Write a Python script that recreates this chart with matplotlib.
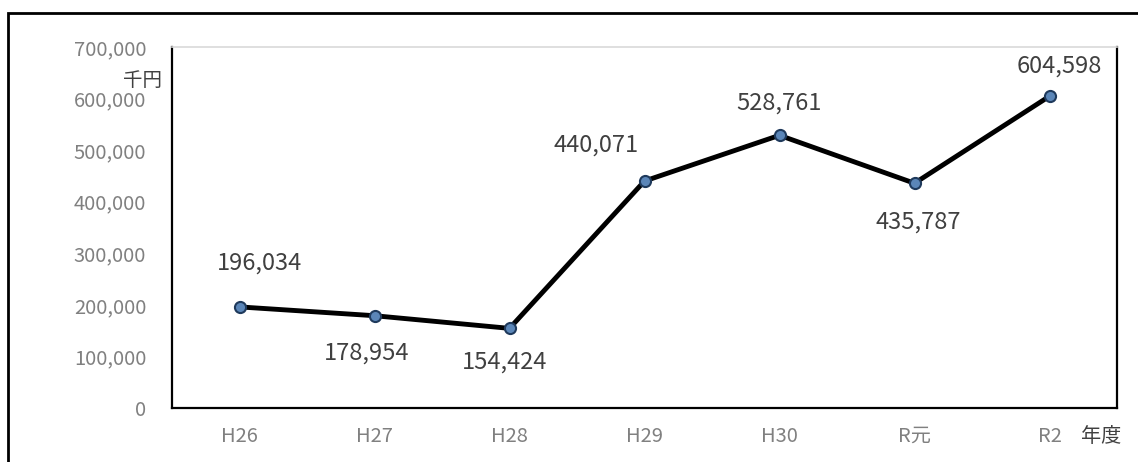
import matplotlib.pyplot as plt
from matplotlib.patches import Rectangle
from matplotlib.ticker import FuncFormatter

plt.rcParams['font.family'] = ['Noto Sans CJK JP', 'DejaVu Sans']

# 年度別の金額（千円）
years = ['H26', 'H27', 'H28', 'H29', 'H30', 'R元', 'R2']
amounts = [196034, 178954, 154424, 440071, 528761, 435787, 604598]
# label offsets in pixels (dx, dy) for each data label
label_offsets = [(20, 44), (-8, -37), (-5, -34), (-48, 36), (-1, 32), (4, -39), (10, 30)]

fig = plt.figure(figsize=(11.38, 4.62), dpi=100)
ax = fig.add_axes([172 / 1138, 1 - 408 / 462, 945 / 1138, 361 / 462])

x = list(range(len(years)))
ax.plot(x, amounts, color='black', lw=3.5, marker='o', markersize=8,
        markerfacecolor='#5b86b8', markeredgecolor='#1f3a5c', markeredgewidth=1.5,
        solid_capstyle='round', zorder=3)

for xi, v, (dx, dy) in zip(x, amounts, label_offsets):
    ax.annotate(f'{v:,}', (xi, v), xytext=(dx, dy), textcoords='offset pixels',
                ha='center', va='center', fontsize=17, color='#404040')

ax.set_xlim(-0.5, len(years) - 0.5)
ax.set_ylim(0, 700000)
ax.set_yticks(range(0, 700001, 100000))
ax.yaxis.set_major_formatter(FuncFormatter(lambda v, p: f'{int(v):,}'))
ax.set_xticks(x)
ax.set_xticklabels(years)
ax.tick_params(axis='both', length=0, labelsize=14.5, labelcolor='#808080')
ax.tick_params(axis='y', pad=18.5)
ax.tick_params(axis='x', pad=13)

for side in ['left', 'bottom', 'right']:
    ax.spines[side].set_color('black')
    ax.spines[side].set_linewidth(1.6)
ax.spines['top'].set_color('#d9d9d9')
ax.spines['top'].set_linewidth(1.2)

# 単位ラベル
fig.text(162 / 1138, 1 - 80 / 462, '千円', ha='right', va='center',
         fontsize=14, color='#404040')
fig.text(1101 / 1138, 1 - 437 / 462, '年度', ha='center', va='center',
         fontsize=14.5, color='#404040')

# 外枠
fig.patches.append(Rectangle((8 / 1138, -0.1), 1.2, 1 - 13 / 462 + 0.1,
                             transform=fig.transFigure, fill=False,
                             edgecolor='black', lw=2))

fig.savefig('out.png', dpi=100)
